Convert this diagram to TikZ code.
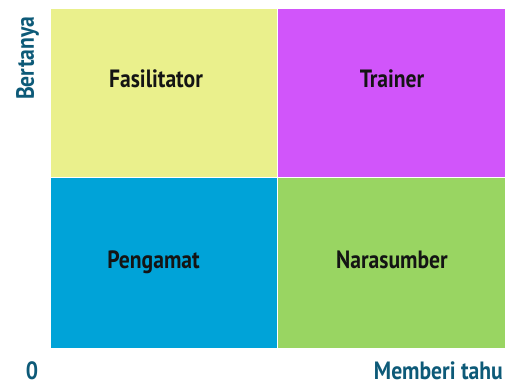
\documentclass[tikz,border=0pt]{standalone}
\usepackage{fontspec}
\setmainfont{PT Sans}[FakeStretch=0.865]
\definecolor{qyellow}{HTML}{EAF08C}
\definecolor{qmagenta}{HTML}{D155FA}
\definecolor{qblue}{HTML}{00A3D8}
\definecolor{qgreen}{HTML}{99D562}
\definecolor{axistext}{HTML}{0D5A78}
\begin{document}
\begin{tikzpicture}[x=1pt,y=-1pt,
  quad/.style={draw=white,line width=1pt},
  qlabel/.style={anchor=base,inner sep=0pt,font=\fontsize{25}{28}\selectfont\bfseries,text=black!92},
  axislabel/.style={inner sep=0pt,text depth=0pt,font=\fontsize{25}{28}\selectfont\bfseries,text=axistext}]
\useasboundingbox (0,0) rectangle (506,382);
% four quadrants
\fill[qyellow,quad] (50,9) rectangle (277,178);
\fill[qmagenta,quad] (277,9) rectangle (505,178);
\fill[qblue,quad] (50,178) rectangle (277,348);
\fill[qgreen,quad] (277,178) rectangle (505,348);
\draw[white,line width=1pt] (277,9) -- (277,348) (50,178) -- (505,178);
% quadrant names
\node[qlabel] (fas) at (156,88) {Fasilitator};
\node[qlabel] (tra) at (392,87.5) {Trainer};
\node[qlabel] (pen) at (153.5,269) {Pengamat};
\node[qlabel] (nar) at (392,269) {Narasumber};
% axes
\node[axislabel,anchor=base east] (xax) at (503,379) {Memberi tahu};
\node[axislabel,anchor=base] (zero) at (32,379) {0};
\node[axislabel,anchor=base west,rotate=90] (yax) at (34,100) {Bertanya};
\end{tikzpicture}
\end{document}
